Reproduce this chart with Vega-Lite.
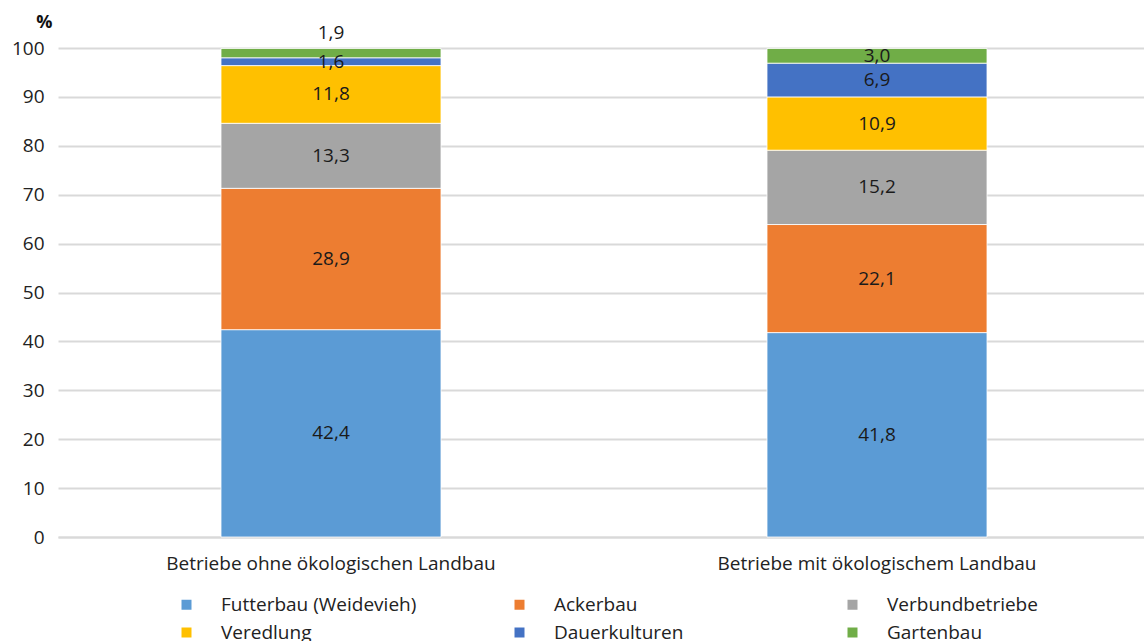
{
  "$schema": "https://vega.github.io/schema/vega-lite/v6.json",
  "autosize": {"type": "none"},
  "padding": {"left": 58, "top": 48, "right": 0, "bottom": 104},
  "width": 1092,
  "height": 489,
  "background": "white",
  "config": {
    "font": "Open Sans",
    "view": {"stroke": null},
    "axis": {"labelFont": "Open Sans", "titleFont": "Open Sans"}
  },
  "data": {
    "values": [
      {"Betrieb": "Betriebe ohne ökologischen Landbau", "Kategorie": "Futterbau (Weidevieh)", "idx": 1, "Anteil": 42.4},
      {"Betrieb": "Betriebe ohne ökologischen Landbau", "Kategorie": "Ackerbau", "idx": 2, "Anteil": 28.9},
      {"Betrieb": "Betriebe ohne ökologischen Landbau", "Kategorie": "Verbundbetriebe", "idx": 3, "Anteil": 13.3},
      {"Betrieb": "Betriebe ohne ökologischen Landbau", "Kategorie": "Veredlung", "idx": 4, "Anteil": 11.8},
      {"Betrieb": "Betriebe ohne ökologischen Landbau", "Kategorie": "Dauerkulturen", "idx": 5, "Anteil": 1.6},
      {"Betrieb": "Betriebe ohne ökologischen Landbau", "Kategorie": "Gartenbau", "idx": 6, "Anteil": 1.9},
      {"Betrieb": "Betriebe mit ökologischem Landbau", "Kategorie": "Futterbau (Weidevieh)", "idx": 1, "Anteil": 41.8},
      {"Betrieb": "Betriebe mit ökologischem Landbau", "Kategorie": "Ackerbau", "idx": 2, "Anteil": 22.1},
      {"Betrieb": "Betriebe mit ökologischem Landbau", "Kategorie": "Verbundbetriebe", "idx": 3, "Anteil": 15.2},
      {"Betrieb": "Betriebe mit ökologischem Landbau", "Kategorie": "Veredlung", "idx": 4, "Anteil": 10.9},
      {"Betrieb": "Betriebe mit ökologischem Landbau", "Kategorie": "Dauerkulturen", "idx": 5, "Anteil": 6.9},
      {"Betrieb": "Betriebe mit ökologischem Landbau", "Kategorie": "Gartenbau", "idx": 6, "Anteil": 3.0}
    ]
  },
  "transform": [
    {"stack": "Anteil", "groupby": ["Betrieb"], "sort": [{"field": "idx", "order": "ascending"}], "as": ["y0", "y1"]},
    {"calculate": "datum.Kategorie === 'Gartenbau' && datum.Anteil < 2.5 ? datum.y1 + 3.2 : (datum.y0 + datum.y1) / 2", "as": "ylab"},
    {"calculate": "replace(format(datum.Anteil, '.1f'), '.', ',')", "as": "lab"}
  ],
  "encoding": {
    "x": {
      "field": "Betrieb",
      "type": "nominal",
      "sort": ["Betriebe ohne ökologischen Landbau", "Betriebe mit ökologischem Landbau"],
      "scale": {"paddingInner": 0, "paddingOuter": 0},
      "axis": {
        "title": null,
        "labelAngle": 0,
        "labelFontSize": 19,
        "labelLimit": 600,
        "labelColor": "#222222",
        "labelPadding": 17,
        "ticks": false,
        "domain": true,
        "domainColor": "#d9d9d9",
        "domainWidth": 2
      }
    }
  },
  "layer": [
    {
      "mark": {"type": "bar", "width": 220, "stroke": "white", "strokeWidth": 0.8},
      "encoding": {
        "y": {
          "field": "y0",
          "type": "quantitative",
          "scale": {"domain": [0, 100]},
          "axis": {
            "title": "%",
            "titleAngle": 0,
            "titleFontSize": 18,
            "titleFontWeight": "bold",
            "titleColor": "#111111",
            "titleAlign": "right",
            "titleBaseline": "bottom",
            "titleX": -6,
            "titleY": -17,
            "values": [0, 10, 20, 30, 40, 50, 60, 70, 80, 90, 100],
            "labelFontSize": 19,
            "labelColor": "#222222",
            "labelPadding": 14,
            "ticks": false,
            "domain": false,
            "gridColor": "#d9d9d9",
            "gridWidth": 2
          }
        },
        "y2": {"field": "y1"},
        "color": {
          "field": "Kategorie",
          "type": "nominal",
          "scale": {
            "domain": ["Futterbau (Weidevieh)", "Ackerbau", "Verbundbetriebe", "Veredlung", "Dauerkulturen", "Gartenbau"],
            "range": ["#5B9BD5", "#ED7D31", "#A5A5A5", "#FFC000", "#4472C4", "#70AD47"]
          },
          "legend": {
            "title": null,
            "orient": "none",
            "legendX": 119,
            "legendY": 547,
            "direction": "horizontal",
            "columns": 3,
            "gridAlign": "all",
            "columnPadding": 93,
            "rowPadding": 8,
            "symbolType": "square",
            "symbolSize": 100,
            "symbolStrokeWidth": 0,
            "labelOffset": 25,
            "labelFontSize": 19,
            "labelColor": "#222222",
            "labelLimit": 400
          }
        }
      }
    },
    {
      "mark": {"type": "text", "fontSize": 19, "color": "#1a1a1a", "baseline": "middle"},
      "encoding": {
        "y": {"field": "ylab", "type": "quantitative"},
        "text": {"field": "lab", "type": "nominal"}
      }
    }
  ]
}
